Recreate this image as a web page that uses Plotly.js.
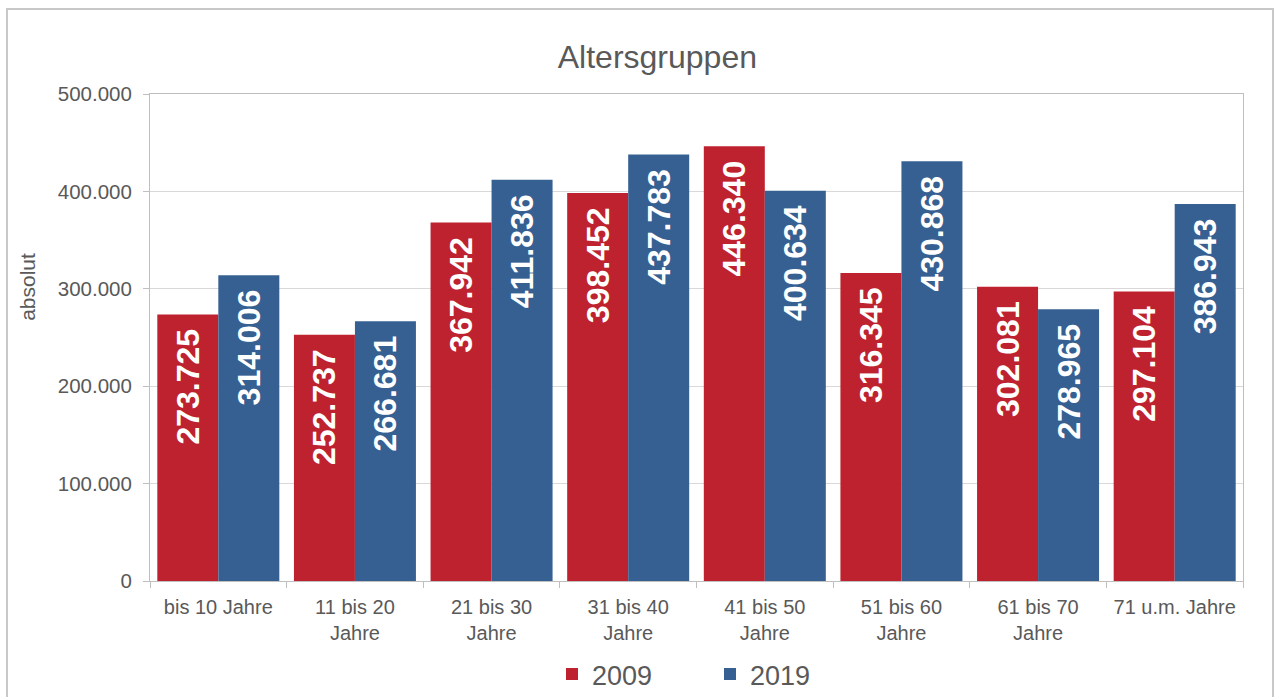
<!DOCTYPE html>
<html>
<head>
<meta charset="utf-8">
<script src="https://cdn.plot.ly/plotly-3.0.1.min.js"></script>
<style>
  html, body { margin: 0; padding: 0; background: #fff; }
  #chart { width: 1274px; height: 697px; }
  #frame { position: absolute; left: 6px; top: 8px; width: 1264px; height: 700px;
           border: 2px solid #c8c8c8; border-bottom: none; pointer-events: none; }
</style>
</head>
<body>
<div id="chart"></div>
<div id="frame"></div>
<script>
const categories = ["bis 10 Jahre", "11 bis 20<br>Jahre", "21 bis 30<br>Jahre", "31 bis 40<br>Jahre",
                    "41 bis 50<br>Jahre", "51 bis 60<br>Jahre", "61 bis 70<br>Jahre", "71 u.m. Jahre"];
const values2009 = [273725, 252737, 367942, 398452, 446340, 316345, 302081, 297104];
const values2019 = [314006, 266681, 411836, 437783, 400634, 430868, 278965, 386943];
const seriesNames = ["2009", "2019"];
const yTicks = [0, 100000, 200000, 300000, 400000, 500000];
const yAxisTitle = "absolut";

const labelFont = { family: "Liberation Sans, Arial, sans-serif", size: 32, color: "#ffffff", weight: "bold" };

function barTrace(name, vals, color) {
  return {
    type: "bar", name: name, x: categories, y: vals,
    marker: { color: color, line: { width: 0 } },
    texttemplate: "%{y:,d}\u00a0\u200a", textposition: "inside", insidetextanchor: "end",
    textangle: -90, insidetextfont: labelFont, textfont: labelFont,
    constraintext: "none", hoverinfo: "skip"
  };
}

const data = [
  barTrace(seriesNames[0], values2009, "#BE222F"),
  barTrace(seriesNames[1], values2019, "#376092")
];

const gray = "#595959";
const layout = {
  width: 1274, height: 697,
  margin: { l: 150, r: 31, t: 94, b: 116, autoexpand: false },
  paper_bgcolor: "#ffffff", plot_bgcolor: "#ffffff",
  separators: ",.",
  font: { family: "Liberation Sans, Arial, sans-serif", color: gray },
  title: { text: "Altersgruppen", font: { size: 32, color: gray }, xref: "container", x: 0.516, y: 0.918, yanchor: "middle" },
  barmode: "group", bargap: 0.107, bargroupgap: 0,
  xaxis: {
    type: "category", tickfont: { size: 20, color: gray },
    showline: true, linecolor: "#bfbfbf", linewidth: 1, mirror: true,
    ticks: "outside", tickson: "boundaries", ticklen: 6, tickcolor: "#bfbfbf",
    ticklabelstandoff: 8,
    showgrid: false, automargin: false
  },
  yaxis: {
    range: [0, 500000], tickvals: yTicks, tickformat: ",d",
    tickfont: { size: 20.5, color: gray },
    showline: true, linecolor: "#bfbfbf", linewidth: 1, mirror: true,
    ticks: "outside", ticklen: 6, tickcolor: "#bfbfbf",
    ticklabelstandoff: 7,
    gridcolor: "#d9d9d9", gridwidth: 1, zeroline: false,
    automargin: false
  },
  annotations: [{
    text: yAxisTitle, textangle: -90, showarrow: false,
    xref: "paper", yref: "paper", x: -0.1116, y: 0.604,
    xanchor: "center", yanchor: "middle",
    font: { size: 21, color: gray }
  }],
  showlegend: true,
  legend: {
    orientation: "h", xref: "container", yref: "container",
    x: 0.4333, xanchor: "left", y: 0.0675, yanchor: "top",
    entrywidth: 113, entrywidthmode: "pixels",
    font: { size: 27, color: gray }, traceorder: "normal"
  }
};

Plotly.newPlot("chart", data, layout, { displayModeBar: false, staticPlot: true });
</script>
</body>
</html>
